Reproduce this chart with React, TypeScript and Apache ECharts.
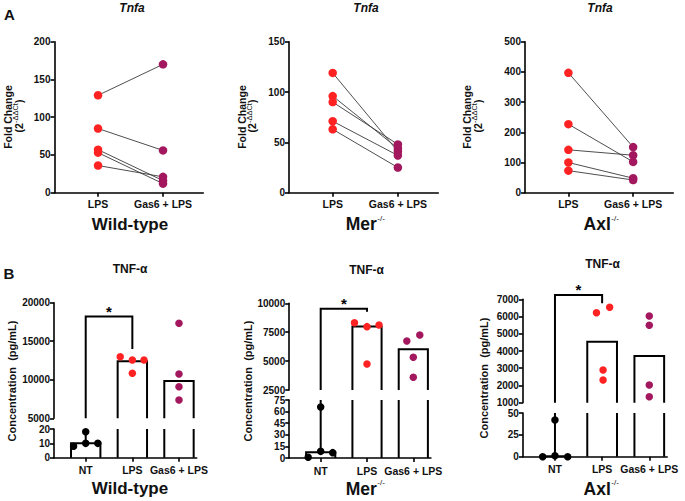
import React, { useEffect, useRef } from 'react';
import * as echarts from 'echarts';

// ---------- data ----------
const groupsA = ['LPS', 'Gas6 + LPS'];
const groupsB = ['NT', 'LPS', 'Gas6 + LPS'];

// Panel A: Tnfa fold change, paired LPS -> Gas6 + LPS
const wtLps = [129, 85, 57, 53, 36];
const wtGas6 = [170, 56, 16, 12, 21];
const merLps = [119, 96, 90, 71, 63];
const merGas6 = [41, 44, 48, 37, 25];
const axlLps = [397, 227, 142, 100, 73];
const axlGas6 = [151, 102, 124, 48, 42];
const wtFoldTicks = [0, 50, 100, 150, 200];
const merFoldTicks = [0, 50, 100, 150];
const axlFoldTicks = [0, 100, 200, 300, 400, 500];

// Panel B: TNF-α concentration (pg/mL)
const wtNT = [8, 18, 10, 10];
const wtNTx = [-0.26, 0, 0, 0.26];
const wtLPS = [12990, 12570, 12570, 10840];
const wtLPSx = [-0.26, 0, 0.25, 0];
const wtGas = [17330, 10750, 9100, 7380];
const wtGasx = [0, 0, 0, 0];
const wtBars = [10, 12400, 9850];
const wtBracket = [18200, 14000];
const wtTopTicks = [5000, 10000, 15000, 20000];
const wtLowTicks = [0, 10, 20];

const merNT = [0.9, 66, 8.6, 6.9];
const merNTx = [-0.27, 0, 0, 0.26];
const merLPS = [8320, 7980, 8120, 4750];
const merLPSx = [-0.27, 0, 0.26, 0];
const merGas = [6740, 7260, 5330, 3600];
const merGasx = [-0.14, 0.14, 0, 0];
const merBars = [7.5, 8000, 6020];
const merBracket = [9530, 9270];
const merTopTicks = [2500, 5000, 7500, 10000];
const merLowTicks = [0, 15, 30, 45, 60, 75];

const axlNT = [0, 1, 0, 42];
const axlNTx = [-0.26, 0, 0.27, 0];
const axlLPS = [6220, 6540, 2900, 2320];
const axlLPSx = [-0.12, 0.16, 0.02, 0.02];
const axlGas = [6030, 5490, 2030, 1350];
const axlGasx = [0, 0, 0, 0];
const axlBars = [0.6, 4540, 3710];
const axlBracket = [7250, 6770];
const axlTopTicks = [1000, 2000, 3000, 4000, 5000, 6000, 7000];
const axlLowTicks = [0, 25, 50];

// ---------- style ----------
const RED = '#ff2222';
const PURPLE = '#a2175d';
const BLACK = '#000000';
const INK = '#111111';
const FONT = "'Liberation Sans', Arial, Helvetica, sans-serif";
const BAR_HALF = 0.315;

let measureCtx: CanvasRenderingContext2D | null = null;
function measure(text: string, size: number, weight: string): number {
  if (!measureCtx) measureCtx = document.createElement('canvas').getContext('2d');
  if (!measureCtx) return text.length * size * 0.55;
  measureCtx.font = `${weight} ${size}px ${FONT}`;
  return measureCtx.measureText(text).width;
}

function txt(x: number, y: number, text: string, size: number, opts: any = {}) {
  const align = opts.align || 'center';
  return {
    type: 'text',
    x,
    y,
    rotation: opts.rotation || 0,
    silent: true,
    style: {
      text,
      fontFamily: FONT,
      fontSize: size,
      fontWeight: opts.weight || 'bold',
      fontStyle: opts.italic ? 'italic' : 'normal',
      fill: INK,
      align,
      verticalAlign: 'middle',
      textAlign: align,
      textVerticalAlign: 'middle',
    },
  };
}

// horizontal "Main" + superscript, centred at cx
function supLabel(cx: number, cy: number, main: string, sup: string, size: number, supSize: number) {
  const wm = measure(main, size, 'bold');
  const ws = measure(sup, supSize, 'normal');
  const x0 = cx - (wm + ws) / 2;
  return [
    txt(x0, cy, main, size, { align: 'left' }),
    txt(x0 + wm + 0.5, cy - size * 0.33, sup, supSize, { align: 'left', weight: 'normal' }),
  ];
}

// rotated (bottom-to-top) "(2" + sup + ")", centred at (cx, cy)
function foldUnit(cx: number, cy: number) {
  const size = 10.5;
  const supSize = 7.5;
  const a = '(2';
  const s = '-\u0394\u0394Ct';
  const b = ')';
  const wa = measure(a, size, 'bold');
  const ws = measure(s, supSize, 'normal');
  const wb = measure(b, size, 'bold');
  const total = wa + ws + wb;
  const y0 = cy + total / 2;
  const rot = Math.PI / 2;
  return [
    txt(cx, y0, a, size, { align: 'left', rotation: rot }),
    txt(cx - 3, y0 - wa, s, supSize, { align: 'left', rotation: rot, weight: 'normal' }),
    txt(cx, y0 - wa - ws, b, size, { align: 'left', rotation: rot }),
  ];
}

function barRenderer(yMin: number, yMax: number) {
  return (_p: any, api: any) => {
    const x = api.value(0);
    const v = api.value(1);
    if (v <= yMin) return null;
    const pl = api.coord([x - BAR_HALF, yMin]);
    const pr = api.coord([x + BAR_HALF, yMin]);
    const yt = api.coord([x, Math.min(v, yMax)])[1];
    const style = { stroke: BLACK, lineWidth: 2, fill: null };
    if (v > yMax) {
      return {
        type: 'group',
        children: [
          { type: 'line', shape: { x1: pl[0], y1: pl[1], x2: pl[0], y2: yt }, style },
          { type: 'line', shape: { x1: pr[0], y1: pr[1], x2: pr[0], y2: yt }, style },
        ],
      };
    }
    return {
      type: 'polyline',
      shape: { points: [[pl[0], pl[1]], [pl[0], yt], [pr[0], yt], [pr[0], pr[1]]] },
      style,
    };
  };
}

function bracketTopRenderer(yMin: number) {
  return (_p: any, api: any) => {
    const top = api.value(2);
    const end = api.value(3);
    const a = api.coord([api.value(0), yMin]);
    const b = api.coord([api.value(0), top]);
    const c = api.coord([api.value(1), top]);
    const d = api.coord([api.value(1), end]);
    return {
      type: 'group',
      children: [
        {
          type: 'polyline',
          shape: { points: [a, b, c, d] },
          style: { stroke: BLACK, lineWidth: 2, fill: null },
        },
        {
          type: 'text',
          x: (b[0] + c[0]) / 2,
          y: b[1] - 5,
          style: {
            text: '*',
            fontFamily: FONT,
            fontSize: 15,
            fontWeight: 'bold',
            fill: BLACK,
            align: 'center',
            verticalAlign: 'middle',
            textAlign: 'center',
            textVerticalAlign: 'middle',
          },
        },
      ],
    };
  };
}

function bracketLowRenderer(yMax: number) {
  return (_p: any, api: any) => {
    const a = api.coord([api.value(0), api.value(1)]);
    const b = api.coord([api.value(0), yMax]);
    return {
      type: 'line',
      shape: { x1: a[0], y1: a[1], x2: b[0], y2: b[1] },
      style: { stroke: BLACK, lineWidth: 2 },
    };
  };
}

const axisLineStyle = { color: BLACK, width: 1.6 };
const tickLabel = { fontFamily: FONT, fontSize: 10, fontWeight: 'bold', color: INK };

function yAxisFor(g: number, ticks: number[]) {
  return {
    type: 'value',
    gridIndex: g,
    min: ticks[0],
    max: ticks[ticks.length - 1],
    interval: ticks[1] - ticks[0],
    splitLine: { show: false },
    axisLine: { show: true, onZero: false, lineStyle: axisLineStyle },
    axisTick: { show: true, length: 4, lineStyle: axisLineStyle },
    axisLabel: { ...tickLabel, margin: 4, formatter: (v: number) => String(v) },
  };
}

function xAxisFor(g: number, min: number, max: number, cats: string[], show: boolean, margin: number) {
  const vals = cats.map((_c, i) => i);
  if (!show) {
    return { type: 'value', gridIndex: g, min, max, show: false, splitLine: { show: false } };
  }
  return {
    type: 'value',
    gridIndex: g,
    min,
    max,
    splitLine: { show: false },
    axisLine: { show: true, onZero: false, lineStyle: axisLineStyle },
    axisTick: { show: true, customValues: vals, length: 4, lineStyle: axisLineStyle },
    axisLabel: {
      ...tickLabel,
      fontSize: 10.5,
      customValues: vals,
      margin,
      formatter: (v: number) => cats[Math.round(v)] ?? '',
    },
  };
}

export default function App() {
  const ref = useRef<HTMLDivElement>(null);

  useEffect(() => {
    document.body.style.margin = '0';
    if (!ref.current) return;
    const chart = echarts.init(ref.current, undefined, { renderer: 'svg' });

    const aPanels = [
      { left: 54.5, width: 148.8, lps: wtLps, gas: wtGas6, ticks: wtFoldTicks },
      { left: 289, width: 149.3, lps: merLps, gas: merGas6, ticks: merFoldTicks },
      { left: 525, width: 148.3, lps: axlLps, gas: axlGas6, ticks: axlFoldTicks },
    ];
    const bPanels = [
      {
        left: 54, width: 142.7, top: 302.7, topH: 115.6, low: 429, lowH: 28.7,
        nt: wtNT, ntx: wtNTx, lps: wtLPS, lpsx: wtLPSx, gas: wtGas, gasx: wtGasx,
        bars: wtBars, bracket: wtBracket, topTicks: wtTopTicks, lowTicks: wtLowTicks,
      },
      {
        left: 289.2, width: 141.7, top: 303.3, topH: 86.7, low: 400, lowH: 58,
        nt: merNT, ntx: merNTx, lps: merLPS, lpsx: merLPSx, gas: merGas, gasx: merGasx,
        bars: merBars, bracket: merBracket, topTicks: merTopTicks, lowTicks: merLowTicks,
      },
      {
        left: 522.9, width: 144.3, top: 299.3, topH: 103.4, low: 413, lowH: 43.7,
        nt: axlNT, ntx: axlNTx, lps: axlLPS, lpsx: axlLPSx, gas: axlGas, gasx: axlGasx,
        bars: axlBars, bracket: axlBracket, topTicks: axlTopTicks, lowTicks: axlLowTicks,
      },
    ];

    const grid: any[] = [];
    const xAxis: any[] = [];
    const yAxis: any[] = [];
    const series: any[] = [];

    aPanels.forEach((p) => {
      const g = grid.length;
      grid.push({ left: p.left, top: 41.7, width: p.width, height: 151 });
      xAxis.push(xAxisFor(g, -0.67, 1.62, groupsA, true, 6));
      yAxis.push(yAxisFor(g, p.ticks));
      p.lps.forEach((v, i) => {
        series.push({
          type: 'line',
          xAxisIndex: g,
          yAxisIndex: g,
          data: [[0, v], [1, p.gas[i]]],
          symbol: 'none',
          showSymbol: false,
          lineStyle: { color: '#3a3a3a', width: 0.9 },
          z: 2,
          silent: true,
        });
      });
      series.push({
        type: 'scatter', xAxisIndex: g, yAxisIndex: g, symbolSize: 8.5, z: 3, silent: true,
        itemStyle: { color: RED, opacity: 1 },
        data: p.lps.map((v) => [0, v]),
      });
      series.push({
        type: 'scatter', xAxisIndex: g, yAxisIndex: g, symbolSize: 8.5, z: 3, silent: true,
        itemStyle: { color: PURPLE, opacity: 1 },
        data: p.gas.map((v) => [1, v]),
      });
    });

    bPanels.forEach((p) => {
      const gt = grid.length;
      const gl = gt + 1;
      grid.push({ left: p.left, top: p.top, width: p.width, height: p.topH });
      grid.push({ left: p.left, top: p.low, width: p.width, height: p.lowH });
      xAxis.push(xAxisFor(gt, -0.68, 2.38, groupsB, false, 7));
      xAxis.push(xAxisFor(gl, -0.68, 2.38, groupsB, true, 7));
      yAxis.push(yAxisFor(gt, p.topTicks));
      yAxis.push(yAxisFor(gl, p.lowTicks));
      const ranges = [
        { g: gt, min: p.topTicks[0], max: p.topTicks[p.topTicks.length - 1] },
        { g: gl, min: p.lowTicks[0], max: p.lowTicks[p.lowTicks.length - 1] },
      ];
      ranges.forEach((r) => {
        series.push({
          type: 'custom', xAxisIndex: r.g, yAxisIndex: r.g, z: 2, silent: true,
          renderItem: barRenderer(r.min, r.max),
          data: p.bars.map((v, i) => [i, v]),
        });
        const groups = [
          { vals: p.nt, xs: p.ntx, cat: 0, color: BLACK },
          { vals: p.lps, xs: p.lpsx, cat: 1, color: RED },
          { vals: p.gas, xs: p.gasx, cat: 2, color: PURPLE },
        ];
        groups.forEach((gr) => {
          const pts = gr.vals
            .map((v, i) => [gr.cat + gr.xs[i], v])
            .filter((d) => d[1] >= r.min && d[1] <= r.max);
          series.push({
            type: 'scatter', xAxisIndex: r.g, yAxisIndex: r.g, symbolSize: 7.5, z: 4, silent: true,
            itemStyle: { color: gr.color, opacity: 1 },
            data: pts,
          });
        });
      });
      series.push({
        type: 'custom', xAxisIndex: gt, yAxisIndex: gt, z: 3, silent: true,
        renderItem: bracketTopRenderer(ranges[0].min),
        data: [[0, 1, p.bracket[0], p.bracket[1]]],
        encode: { x: [0, 1], y: [2, 3] },
      });
      series.push({
        type: 'custom', xAxisIndex: gl, yAxisIndex: gl, z: 3, silent: true,
        renderItem: bracketLowRenderer(ranges[1].max),
        data: [[0, p.bars[0]]],
      });
    });

    const rot = Math.PI / 2;
    const graphic: any[] = [
      txt(9.5, 14, 'A', 15),
      txt(9, 273, 'B', 15),
      txt(132, 8, 'Tnfa', 12, { italic: true }),
      txt(366, 8, 'Tnfa', 12, { italic: true }),
      txt(600, 8, 'Tnfa', 12, { italic: true }),
      txt(130, 268.5, 'TNF-\u03b1', 12),
      txt(366.5, 270, 'TNF-\u03b1', 12),
      txt(602.5, 264, 'TNF-\u03b1', 12),
      txt(130, 224, 'Wild-type', 17),
      ...supLabel(365, 224, 'Mer', '-/-', 17.5, 8),
      ...supLabel(601, 224, 'Axl', '-/-', 17.5, 8),
      txt(130, 488, 'Wild-type', 17),
      ...supLabel(365, 488.5, 'Mer', '-/-', 17.5, 8),
      ...supLabel(601, 488.5, 'Axl', '-/-', 17.5, 8),
      txt(8, 117, 'Fold Change', 10.5, { rotation: rot }),
      ...foldUnit(18.5, 116),
      txt(241.5, 117, 'Fold Change', 10.5, { rotation: rot }),
      ...foldUnit(252, 116),
      txt(467, 117, 'Fold Change', 10.5, { rotation: rot }),
      ...foldUnit(477.5, 116),
      txt(12, 381, 'Concentration  (pg/mL)', 11, { rotation: rot }),
      txt(247.5, 381, 'Concentration  (pg/mL)', 11, { rotation: rot }),
      txt(484, 378, 'Concentration  (pg/mL)', 11, { rotation: rot }),
    ];

    chart.setOption({
      animation: false,
      backgroundColor: '#ffffff',
      textStyle: { fontFamily: FONT },
      grid,
      xAxis,
      yAxis,
      series,
      graphic,
    });

    return () => chart.dispose();
  }, []);

  return <div ref={ref} style={{ width: 685, height: 501 }} />;
}
